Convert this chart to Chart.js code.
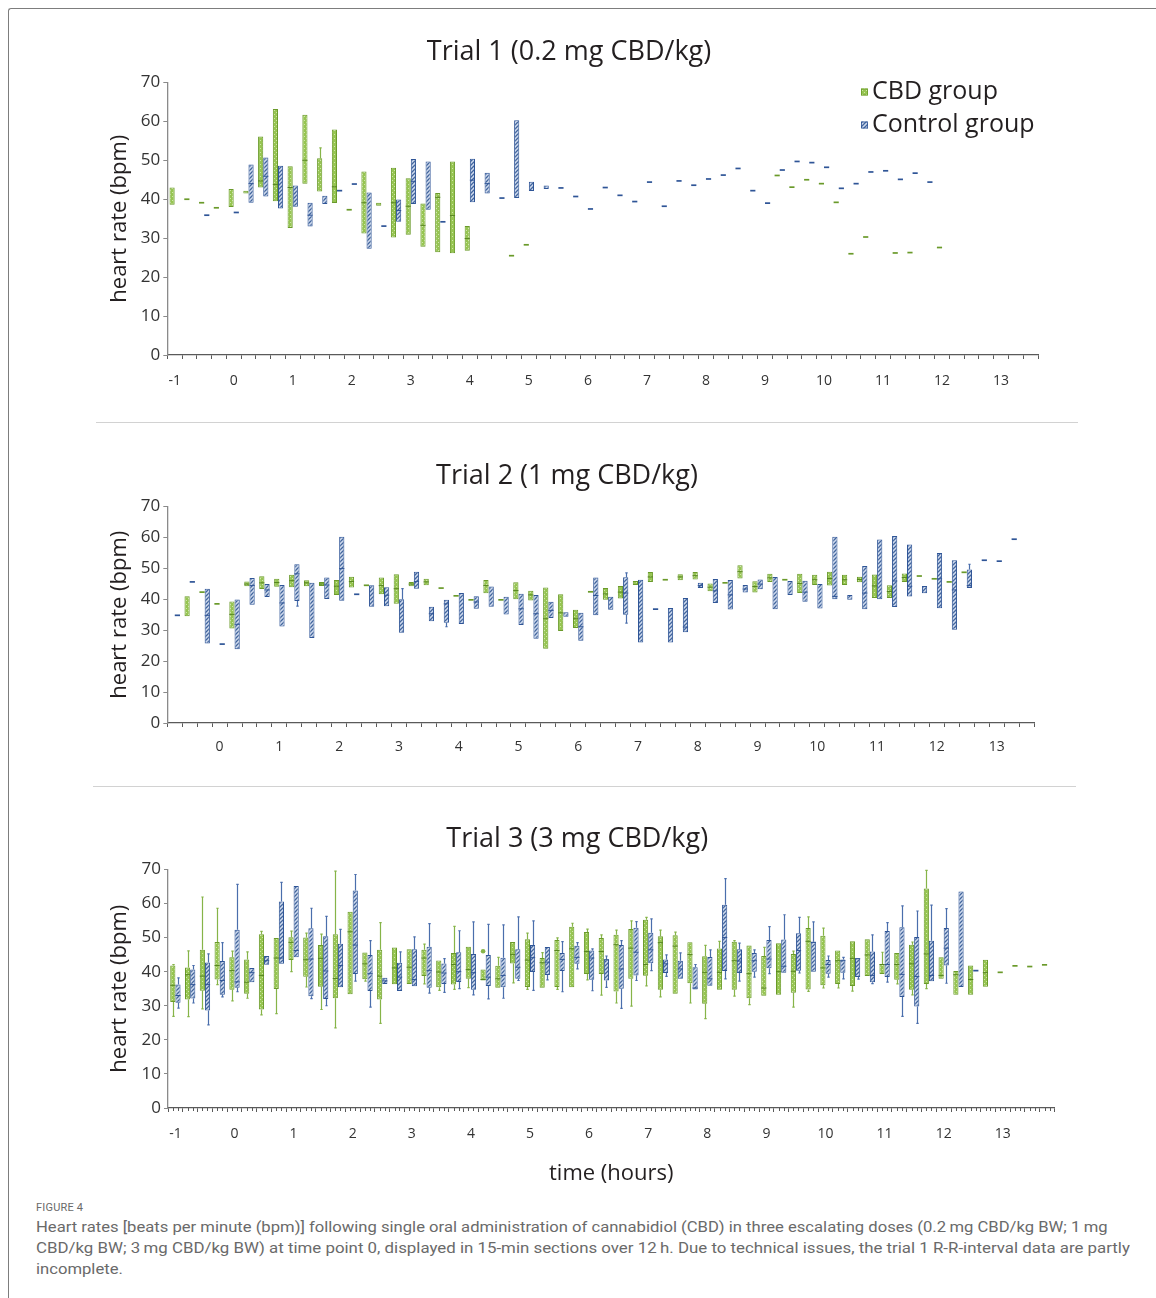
<!DOCTYPE html>
<html>
<head>
<meta charset="utf-8">
<title>Heart rates after oral CBD</title>
<script src="https://cdn.jsdelivr.net/npm/chart.js@4.4.1/dist/chart.umd.min.js"></script>
<style>
	body { margin: 0; width: 1156px; height: 1298px; position: relative; overflow: hidden; background: #fff; font-family: "Open Sans", sans-serif; }
	.frame { position: absolute; left: 8px; top: 8px; width: 1200px; height: 1400px; border-top: 1px solid #7d7d7d; border-left: 1px solid #7d7d7d; border-top-left-radius: 3px; }
	.rule { position: absolute; height: 1px; background: #d2d2d2; }
	.panel { position: absolute; left: 0; }
	.fig-label { position: absolute; left: 36px; top: 1201px; font: 11px Roboto, sans-serif; color: #6a6a6a; letter-spacing: 0.2px; white-space: nowrap; }
	.caption-line { position: absolute; left: 36px; font: 15px Roboto, sans-serif; color: #6a6a6a; white-space: nowrap; transform-origin: left center; }
</style>
</head>
<body>
<div class="frame"></div>
<div class="rule" style="left:96px; top:422px; width:982px;"></div>
<div class="rule" style="left:93px; top:786px; width:983px;"></div>

<canvas id="trial-1" class="panel" style="top:0px;" width="1144" height="400"></canvas>
<canvas id="trial-2" class="panel" style="top:430px;" width="1138" height="338"></canvas>
<canvas id="trial-3" class="panel" style="top:795px;" width="1160" height="400"></canvas>

<div class="fig-label">FIGURE 4</div>
<div class="caption-line" style="top:1218px;" data-fit="1072">Heart rates [beats per minute (bpm)] following single oral administration of cannabidiol (CBD) in three escalating doses (0.2&thinsp;mg CBD/kg BW; 1&thinsp;mg</div>
<div class="caption-line" style="top:1239px;" data-fit="1094">CBD/kg BW; 3&thinsp;mg CBD/kg BW) at time point 0, displayed in 15-min sections over 12&thinsp;h. Due to technical issues, the trial 1 R-R-interval data are partly</div>
<div class="caption-line" style="top:1260px;">incomplete.</div>

<script>
	'use strict';

	// 15-min slots (hours relative to dosing)
	function quarterHours(start, count) {
		var out = [];
		for (var i = 0; i < count; i++) {
			out.push(start + i * 0.25);
		}
		return out;
	}

	var trial1Times = quarterHours(-1, 59);
	var trial2Times = quarterHours(-0.75, 58);
	var trial3Times = quarterHours(-1, 60);

	// one entry per slot: [q1, q3, median, whisker low, whisker high]
	// a single value is a slot with one reading (drawn as a dash), null = no data
	var trial1Cbd = [
		[38.6, 43.0], [40.0], [39.1], [37.8],
		[38.0, 42.6], [41.5, 42.2], [43.0, 56.1, 44.7], [39.5, 63.2, 43.8],
		[32.6, 48.5, 43.0], [44.0, 61.7, 50.0], [42.0, 50.5, null, null, 53.2], [39.0, 57.9, 43.2],
		[37.3], [31.2, 47.1, 39.1], [38.3, 39.1], [30.2, 48.1, 39.1],
		[30.9, 45.4, 38.2], [27.8, 38.9, 33.3], [26.4, 41.6, 40.5], [26.1, 49.7, 35.8],
		[26.8, 33.1, 29.9], null, null, [25.5],
		[28.3], null, null, null,
		null, null, null, null,
		null, null, null, null,
		null, null, null, null,
		null, [46.1], [43.1], [45.0],
		[44.0], [39.2], [26.0], [30.3],
		null, [26.2], [26.3], null,
		[27.6], null, null, null,
		null, null, null
	];
	var trial1Control = [
		null, null, [35.9], null,
		[36.6], [39.1, 48.9, 44.0], [40.7, 50.7, 45.9], [37.6, 48.6],
		[38.1, 43.5], [33.0, 39.1, 35.9], [38.8, 40.9], [42.2],
		[43.9], [27.3, 41.7], [33.1], [34.2, 39.9, 37.1],
		[38.8, 50.3, 44.6], [37.3, 49.7], [34.2], null,
		[39.2, 50.4, 44.9], [41.5, 46.8, 44.0], [40.3], [40.3, 60.3],
		[42.1, 44.5], [42.6, 43.5], [42.9], [40.7],
		[37.5], [43.0], [41.0], [39.4],
		[44.4], [38.2], [44.7], [43.6],
		[45.2], [46.2], [47.9], [42.2],
		[39.0], [47.5], [49.7], [49.4],
		[48.2], [42.8], [44.0], [47.0],
		[47.3], [45.1], [46.7], [44.4],
		null, null, null, null,
		null, null, null
	];

	var trial2Cbd = [
		null, [34.5, 41.0], [42.3], [38.5],
		[30.5, 39.3, 35.1], [44.2, 45.7, 44.9], [43.3, 47.4, 45.3], [44.0, 46.6, 45.4],
		[43.9, 47.9, 46.0], [44.2, 46.1, 45.3], [44.3, 45.6, 44.9], [41.4, 46.2, 44.2],
		[43.8, 47.3, 45.7], [44.5], [41.6, 47.0, 44.4], [38.5, 48.1, 43.4],
		[44.2, 45.6, 44.9], [44.5, 46.6, 45.6], [43.6], [41.1],
		[39.8], [41.9, 46.2, 44.4], [39.8], [40.0, 45.5, 42.8],
		[39.6, 42.7, 41.4], [24.0, 43.8, 33.7], [29.7, 41.6, 35.6], [30.7, 36.6, 33.7],
		[42.4], [39.8, 43.6, 41.7], [40.2, 44.3, 42.3], [44.6, 45.9],
		[45.6, 48.8, 47.2], [46.3], [46.1, 48.1, 47.2], [46.4, 48.8, 47.6],
		[42.6, 45.1, 43.9], [45.3], [46.7, 51.0, 48.9], [42.2, 45.8, 44.1],
		[45.6, 48.2, 46.9], [46.3], [42.0, 48.2, 45.1], [44.6, 47.9, 46.3],
		[44.4, 48.9, 46.7], [44.6, 47.9, 46.3], [45.5, 47.3, 46.4], [40.4, 48.0, 44.3],
		[40.4, 44.5, 42.5], [45.6, 48.3, 47.0], [47.5], [46.6],
		[45.6], [48.7], null, null,
		null, null
	];
	var trial2Control = [
		[34.8], [45.6], [25.7, 43.4, 34.8], [25.5],
		[23.8, 39.9, 31.9], [38.2, 46.9, 44.4], [40.7, 44.9, 43.0], [31.2, 44.6, 38.8],
		[39.4, 51.3, 48.2, 37.8], [27.5, 45.3], [40.1, 47.0, 44.6], [39.5, 60.2, 49.9],
		[41.6], [37.6, 44.5], [37.7, 43.9, 41.3], [29.2, 40.0, null, null, 43.4],
		[43.4, 48.9, 45.7], [32.9, 37.6, 35.3], [32.4, 39.8, 38.5, 31.1], [32.0, 42.0],
		[36.9, 41.0, 39.1], [37.6, 44.1], [35.1, 40.8], [31.7, 41.8, 36.9],
		[27.2, 41.4, 35.3], [33.9, 39.2, 36.4], [34.3, 35.8], [26.6, 35.6, 31.1],
		[34.8, 47.0, 41.2], [36.6, 40.8], [35.0, 47.1, 42.0, 32.3, 48.5], [26.0, 46.3],
		[36.8], [26.0, 37.2], [29.3, 40.4, 31.0], [43.6, 45.3, 44.4],
		[38.8, 46.5, 42.7], [36.7, 46.2, 41.4], [42.2, 44.6, 43.3], [43.2, 46.4, 44.9],
		[36.8, 47.2], [41.4, 45.9], [39.2, 46.0, 42.3], [37.0, 44.9],
		[40.0, 60.2, 40.9], [39.8, 41.4], [36.8, 50.7, 42.0], [40.0, 59.3],
		[37.5, 60.4, 45.9], [40.9, 57.7, 44.2], [41.9, 44.3], [37.1, 54.9, 46.6],
		[30.1, 52.6, 43.0], [43.6, 49.6, 44.4, null, 51.3], [52.6], [52.3],
		[59.4], null
	];

	var trial3Cbd = [
		[31.1, 41.8, 36.0, 26.9, 42.1], [31.8, 41.2, 39.1, 26.8, 46.1], [34.4, 46.4, 38.7, 29.1, 61.9], [37.7, 48.7, 41.8, 36.2, 58.6],
		[34.7, 44.2, 40.3, 31.4, 46.0], [33.5, 43.6, 36.9, 32.2, 45.8], [28.9, 51.0, 38.9, 27.3, 51.8], [34.9, 49.9, 44.0, 27.7],
		[43.4, 50.1, 48.6, 40.0, 51.9], [38.5, 50.0, 43.5, 35.5, 51.3], [35.6, 47.8, 43.9, 28.9, 51.0], [32.2, 51.0, 38.0, 23.5, 69.5],
		[33.4, 57.6, 51.7], [37.8, 45.6, 42.3, 37.2], [31.8, 46.4, 38.7, 24.8, 54.4], [36.3, 47.1, 41.1],
		[36.4, 46.6, 41.3], [38.7, 46.4, 44.0, 36.4, 48.1], [35.4, 43.3, 39.9, 34.5], [36.2, 45.5, 42.1, 34.8, 53.3],
		[37.9, 47.3, 40.6, 35.3], [37.4, 40.6, 37.7], [35.3, 41.7, 37.9, null, 44.2], [42.4, 48.7, 45.0, 36.7],
		[35.5, 49.5, 43.4, 34.8, 51.3], [35.3, 44.0, 42.6, null, 45.6], [35.5, 49.3, 46.2, 34.8, 49.9], [35.4, 53.2, 46.7, null, 54.2],
		[39.3, 51.6, 45.9, 37.6, 52.5], [39.3, 49.9, 45.9, 33.1, 50.8], [34.2, 50.8, 47.9, 30.8, 52.2], [37.9, 52.5, 46.9, 29.9, 54.9],
		[38.8, 55.2, 42.1, 35.8, 55.9], [34.7, 50.4, 48.5, 32.6, 52.2], [33.5, 50.7, 47.5, null, 51.6], [36.6, 48.6, 45.0, 30.8],
		[30.6, 44.5, 39.8, 26.2, 47.7], [34.7, 46.8, 39.8, null, 48.9], [34.7, 48.8, 43.2, 32.8, 49.1], [32.2, 47.7, 39.4, 30.3],
		[32.9, 44.6, 35.2, null, 47.1], [33.2, 48.3, 40.0], [33.8, 45.2, 40.1, 29.6, 46.0], [34.8, 52.8, 48.9, 34.2, 56.1],
		[36.0, 50.5, 41.1, 35.2, 52.8], [36.4, 46.2, 43.2, 35.2], [35.8, 48.9, 43.9, 34.3], [38.7, 49.5, 44.9],
		[39.3, 42.2, 42.1, null, 45.7], [37.6, 45.5, 42.1, 36.4], [34.7, 47.9, 42.3, 33.2, 48.7], [36.4, 64.4, 45.2, 35.0, 69.7],
		[37.9, 44.2, 38.9], [33.2, 40.2, 39.1], [33.2, 41.8, 37.7], [35.6, 43.5, 39.7],
		[39.8], [41.7], [41.5], [42.0]
	];
	var trial3Control = [
		[30.9, 36.2, 33.0, 29.3, 38.2], [32.1, 40.6, 36.2, 30.8, 41.8], [28.6, 42.7, 36.2, 24.4, 45.2], [33.2, 43.1, 37.4, 32.6, 48.5],
		[35.3, 52.3, 37.0, 34.1, 65.6], [36.9, 41.1, 39.7], [42.0, 44.6, 43.2], [42.3, 60.6, 44.0, null, 66.2],
		[44.2, 65.1, 46.2], [32.8, 52.7, 43.7, 32.1, 58.6], [32.0, 50.4, 40.2, 30.0, 56.2], [35.4, 48.2, 41.8, null, 52.4],
		[39.3, 63.8, 47.8, 37.2, 68.5], [34.3, 44.9, 39.4, 29.6, 49.1], [36.4, 38.2, 37.3], [34.3, 42.6, 38.4, null, 45.8],
		[35.7, 46.6, 37.7, null, 50.2], [35.3, 47.3, 40.3, 33.7, 54.1], [36.4, 42.4, 39.6, 33.9, 43.8], [37.0, 45.7, 40.0, 35.0, 52.0],
		[34.7, 45.2, 39.7, 33.2, 54.6], [35.8, 44.9, 38.4, 32.0, 53.9], [35.4, 44.1, 38.9, 32.2, 53.7], [37.9, 46.6, 41.3, 37.4, 56.1],
		[39.9, 47.8, 44.1, 34.5, 54.9], [39.0, 47.2, 42.8, 37.6], [40.2, 45.5, 43.6, 34.1, 48.8], [42.3, 47.6, 44.2, 40.8, 48.5],
		[37.6, 46.2, 44.0, 34.4, 46.7], [37.4, 43.6, 43.5, 35.4, 44.6], [35.0, 47.8, 40.8, 29.2, 49.1], [38.9, 52.9, 45.7, 37.4, 54.7],
		[42.5, 51.4, 46.4, 40.3, 55.5], [39.6, 43.6, 42.3, 38.6, 44.9], [37.9, 43.2, 40.8, null, 45.5], [34.8, 41.3, 35.2, null, 42.1],
		[35.9, 44.3, 37.9, null, 46.4], [40.2, 59.6, 50.0, 37.9, 67.3], [39.6, 46.6, 43.1, 37.2, 48.4], [40.0, 45.5, 43.2, 38.4, 46.4],
		[41.0, 49.3, 43.7, 39.4, 53.2], [39.7, 49.4, 41.6, null, 56.7], [40.3, 51.3, 46.2, 39.6, 55.9], [40.0, 48.8, 48.6, null, 54.6],
		[39.4, 43.4, 42.1, 38.4, 44.6], [39.7, 43.6, 43.2, 37.9, 44.2], [38.4, 43.9, 43.8, 37.8], [36.9, 45.9, 38.9, 36.5, 50.8],
		[38.4, 51.9, 42.1, 36.9, 54.4], [32.6, 53.0, 39.2, 26.9, 59.3], [29.8, 50.2, 38.6, 24.8, 57.8], [37.2, 49.1, 38.9, null, 59.5],
		[41.8, 52.8, 46.9, 36.6, 58.5], [35.5, 63.5], [40.3], null,
		null, null, null, null
	];
	// single readings outside the whiskers: [slot, bpm]
	var trial3CbdOutliers = [[21, 46.0]];

	var yTicks = { min: 0, max: 70, step: 10 };

	var ink = '#231f20';
	var green = { border: '#6a9a2a', median: '#55841f', whisker: '#86b448' };
	var blue = { border: '#2f5597', median: '#2f5597', whisker: '#4a6eac' };

	Chart.defaults.font.family = '"Open Sans", sans-serif';
	Chart.defaults.color = ink;

	// small repeating tiles for the box fills
	function makePattern(kind) {
		var tile = document.createElement('canvas');
		tile.width = 4;
		tile.height = 4;
		var g = tile.getContext('2d');
		if (kind === 'dots') {
			g.fillStyle = '#96c551';
			g.fillRect(0, 0, 4, 4);
			g.fillStyle = '#cfe6a8';
			g.fillRect(0, 0, 1, 1);
			g.fillRect(2, 2, 1, 1);
		} else {
			g.fillStyle = '#cfdaee';
			g.fillRect(0, 0, 4, 4);
			g.strokeStyle = '#42669d';
			g.lineWidth = 1.25;
			g.beginPath();
			g.moveTo(-1, 5); g.lineTo(5, -1);
			g.moveTo(-1, 1); g.lineTo(1, -1);
			g.moveTo(3, 5); g.lineTo(5, 3);
			g.stroke();
		}
		return g.createPattern(tile, 'repeat');
	}

	var greenFill = makePattern('dots');
	var blueFill = makePattern('hatch');

	function expandStat(s) {
		if (!s) return null;
		if (s.length === 1) return { lo: s[0], hi: s[0], med: s[0], min: null, max: null, dash: true };
		return {
			lo: s[0], hi: s[1],
			med: s[2] == null ? null : s[2],
			min: s[3] == null ? null : s[3],
			max: s[4] == null ? null : s[4],
			dash: false
		};
	}

	// whiskers behind the boxes, medians and single readings on top
	var boxPlotPlugin = {
		id: 'boxPlot',
		beforeDatasetsDraw: function(chart) {
			var ctx = chart.ctx, y = chart.scales.y;
			chart.data.datasets.forEach(function(ds, di) {
				var meta = chart.getDatasetMeta(di);
				ctx.save();
				ctx.strokeStyle = ds.whiskerColor;
				ctx.lineWidth = 1.2;
				ds.stats.forEach(function(s, i) {
					var el = meta.data[i];
					if (!s || !el) return;
					var x = Math.round(el.x) + 0.5;
					ctx.beginPath();
					if (s.max != null) {
						ctx.moveTo(x, y.getPixelForValue(s.hi));
						ctx.lineTo(x, y.getPixelForValue(s.max));
						ctx.moveTo(x - 1.2, y.getPixelForValue(s.max));
						ctx.lineTo(x + 1.2, y.getPixelForValue(s.max));
					}
					if (s.min != null) {
						ctx.moveTo(x, y.getPixelForValue(s.lo));
						ctx.lineTo(x, y.getPixelForValue(s.min));
						ctx.moveTo(x - 1.2, y.getPixelForValue(s.min));
						ctx.lineTo(x + 1.2, y.getPixelForValue(s.min));
					}
					ctx.stroke();
				});
				ctx.restore();
			});
		},
		afterDatasetsDraw: function(chart) {
			var ctx = chart.ctx, y = chart.scales.y;
			chart.data.datasets.forEach(function(ds, di) {
				var meta = chart.getDatasetMeta(di);
				ctx.save();
				ds.stats.forEach(function(s, i) {
					var el = meta.data[i];
					if (!s || !el || s.med == null) return;
					var half = el.width / 2;
					var py = y.getPixelForValue(s.med);
					ctx.strokeStyle = s.dash ? ds.borderColor : ds.medianColor;
					ctx.lineWidth = s.dash ? 1.7 : 1;
					ctx.beginPath();
					ctx.moveTo(el.x - half, py);
					ctx.lineTo(el.x + half, py);
					ctx.stroke();
				});
				(ds.outliers || []).forEach(function(o) {
					var el = meta.data[o[0]];
					if (!el) return;
					ctx.fillStyle = ds.whiskerColor;
					ctx.beginPath();
					ctx.arc(el.x, y.getPixelForValue(o[1]), 2.3, 0, Math.PI * 2);
					ctx.fill();
				});
				ctx.restore();
			});
		}
	};

	// legend drawn inside the plot, top right
	var boxLegendPlugin = {
		id: 'boxLegend',
		afterDraw: function(chart, args, opts) {
			var ctx = chart.ctx;
			ctx.save();
			ctx.font = opts.fontSize + 'px "Open Sans", sans-serif';
			ctx.textBaseline = 'middle';
			chart.data.datasets.forEach(function(ds, i) {
				var cy = opts.y + i * opts.gap;
				ctx.fillStyle = ds.backgroundColor;
				ctx.fillRect(opts.x, cy - 3.5, 7, 7);
				ctx.strokeStyle = ds.borderColor;
				ctx.lineWidth = 0.8;
				ctx.strokeRect(opts.x + 0.5, cy - 3, 6, 6);
				ctx.fillStyle = ink;
				ctx.fillText(ds.label, opts.x + 11, cy);
			});
			ctx.restore();
		}
	};

	// finer tick marks between the slot ticks
	var minorTicksPlugin = {
		id: 'minorTicks',
		afterDraw: function(chart, args, opts) {
			var xs = chart.scales.x, ctx = chart.ctx;
			var n = chart.data.labels.length * opts.perSlot;
			var step = (xs.right - xs.left) / n;
			ctx.save();
			ctx.strokeStyle = opts.color;
			ctx.lineWidth = 1;
			ctx.beginPath();
			for (var k = 1; k < n; k++) {
				if (k % opts.perSlot === 0) continue;
				var px = Math.round(xs.left + k * step) + 0.5;
				ctx.moveTo(px, xs.top);
				ctx.lineTo(px, xs.top + opts.length);
			}
			ctx.stroke();
			ctx.restore();
		}
	};

	function buildTrialChart(canvasId, cfg) {
		var cbd = cfg.cbd.map(expandStat);
		var ctrl = cfg.control.map(expandStat);
		var toRange = function(s) { return s ? [s.lo, s.hi] : null; };

		var xScale = {
			type: 'category',
			offset: true,
			grid: { offset: true, drawOnChartArea: false, drawTicks: true, tickLength: 4, color: '#5a5a5a', lineWidth: 1 },
			border: { color: '#5a5a5a', width: 1.3 },
			ticks: {
				autoSkip: false,
				maxRotation: 0,
				padding: cfg.xLabelPad,
				color: '#333',
				font: { size: 14 },
				callback: function(value) {
					var t = this.getLabelForValue(value);
					return Number.isInteger(t) ? String(t) : '';
				}
			},
			afterFit: function(scale) { scale.height = cfg.xHeight; }
		};
		if (cfg.xTitle) {
			xScale.title = { display: true, text: cfg.xTitle, color: ink, font: { size: 22 }, padding: { top: 0, bottom: 8 } };
		}

		return new Chart(document.getElementById(canvasId), {
			type: 'bar',
			data: {
				labels: cfg.times,
				datasets: [
					{
						label: 'CBD group',
						data: cbd.map(toRange),
						stats: cbd,
						outliers: cfg.cbdOutliers,
						backgroundColor: greenFill,
						borderColor: green.border,
						medianColor: green.median,
						whiskerColor: green.whisker,
						borderWidth: 1,
						borderSkipped: false,
						categoryPercentage: 0.7,
						barPercentage: 1
					},
					{
						label: 'Control group',
						data: ctrl.map(toRange),
						stats: ctrl,
						backgroundColor: blueFill,
						borderColor: blue.border,
						medianColor: blue.median,
						whiskerColor: blue.whisker,
						borderWidth: 1,
						borderSkipped: false,
						categoryPercentage: 0.7,
						barPercentage: 1
					}
				]
			},
			options: {
				responsive: false,
				animation: false,
				layout: { padding: cfg.padding },
				plugins: {
					legend: { display: false },
					tooltip: { enabled: false },
					title: {
						display: true,
						text: cfg.title,
						color: ink,
						font: { size: 27, weight: 'normal' },
						padding: { top: 0, bottom: 14 }
					},
					boxLegend: cfg.legend || {},
					minorTicks: cfg.minorTicks || {}
				},
				scales: {
					x: xScale,
					y: {
						min: yTicks.min,
						max: yTicks.max,
						ticks: { stepSize: yTicks.step, padding: 3, color: '#333', font: { size: 17 } },
						grid: { drawOnChartArea: false, drawTicks: true, tickLength: 4, color: '#8a8a8a' },
						border: { color: '#8a8a8a', width: 1.3 },
						title: { display: true, text: 'heart rate (bpm)', color: ink, font: { size: 22 }, padding: { top: 7, bottom: 0 } },
						afterFit: function(scale) { scale.width = cfg.yWidth; }
					}
				}
			},
			plugins: [boxPlotPlugin].concat(cfg.extraPlugins || [])
		});
	}

	function drawAll() {
		buildTrialChart('trial-1', {
			title: 'Trial 1 (0.2 mg CBD/kg)',
			times: trial1Times, cbd: trial1Cbd, control: trial1Control,
			padding: { top: 36, left: 100, right: 106, bottom: 10 },
			yWidth: 67.3, xHeight: 35, xLabelPad: 14,
			legend: { x: 861, y: 92, gap: 33, fontSize: 25 },
			extraPlugins: [boxLegendPlugin]
		});
		buildTrialChart('trial-2', {
			title: 'Trial 2 (1 mg CBD/kg)',
			times: trial2Times, cbd: trial2Cbd, control: trial2Control,
			padding: { top: 30, left: 100, right: 104, bottom: 10 },
			yWidth: 67.3, xHeight: 35, xLabelPad: 12
		});
		buildTrialChart('trial-3', {
			title: 'Trial 3 (3 mg CBD/kg)',
			times: trial3Times, cbd: trial3Cbd, control: trial3Control,
			cbdOutliers: trial3CbdOutliers,
			padding: { top: 28, left: 100, right: 105.5, bottom: 0 },
			yWidth: 68, xHeight: 87, xLabelPad: 14,
			xTitle: 'time (hours)',
			minorTicks: { perSlot: 3, length: 3, color: '#5a5a5a' },
			extraPlugins: [minorTicksPlugin]
		});

		// stretch caption lines to the set width
		var lines = document.querySelectorAll('.caption-line[data-fit]');
		var scale = 1;
		lines.forEach(function(line, i) {
			var s = Number(line.getAttribute('data-fit')) / line.scrollWidth;
			line.style.transform = 'scaleX(' + s + ')';
			if (i === 0) scale = s;
		});
		document.querySelectorAll('.caption-line:not([data-fit])').forEach(function(line) {
			line.style.transform = 'scaleX(' + scale + ')';
		});
	}

	if (document.fonts && document.fonts.ready) {
		document.fonts.ready.then(drawAll);
	} else {
		drawAll();
	}
</script>
</body>
</html>
